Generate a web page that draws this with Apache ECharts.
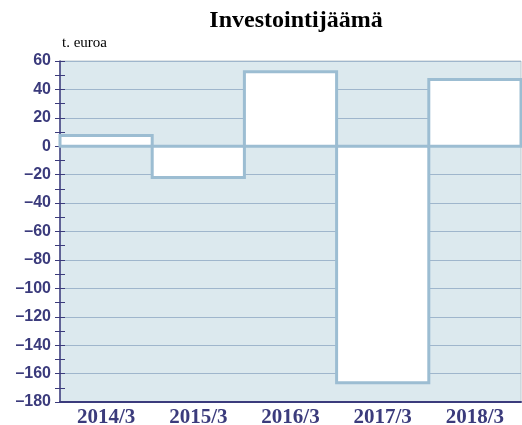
<!DOCTYPE html>
<html>
<head>
<meta charset="utf-8">
<script src="https://cdn.jsdelivr.net/npm/echarts@6/dist/echarts.min.js"></script>
<style>
  html, body { margin: 0; padding: 0; background: #ffffff; }
  #chart { width: 522px; height: 425px; }
</style>
</head>
<body>
<div id="chart"></div>
<script>
const categories = ['2014/3', '2015/3', '2016/3', '2017/3', '2018/3']
const values = [7.5, -22, 52.5, -166.5, 47]

const navy = '#3b3b7c'
const dash = v => String(v).replace('-', '\u2013')

const chart = echarts.init(document.getElementById('chart'))

// bars drawn as outlined rects so neighbours share edges like the original
const renderBar = (params, api) => {
  const i = api.value(0)
  const v = api.value(1)
  const base = api.coord([i, 0])
  const top = api.coord([i, v])
  const w = api.size([1, 0])[0]
  return {
    type: 'rect',
    shape: {
      x: base[0] - w / 2,
      y: Math.min(base[1], top[1]),
      width: w,
      height: Math.abs(top[1] - base[1])
    },
    style: { fill: '#ffffff', stroke: '#9cbdd2', lineWidth: 3 }
  }
}

const option = {
  animation: false,
  title: {
    text: 'Investointijäämä',
    left: 291,
    top: 4,
    textAlign: 'center',
    textStyle: {
      fontFamily: 'Liberation Serif, serif',
      fontSize: 24,
      fontWeight: 'bold',
      color: '#000'
    }
  },
  graphic: [{
    type: 'text',
    left: 62,
    top: 36,
    style: {
      text: 't. euroa',
      font: '15px "Liberation Serif", serif',
      fill: '#000'
    }
  }],
  grid: {
    left: 60,
    right: 1,
    top: 61,
    bottom: 23,
    outerBoundsMode: 'none',
    show: true,
    backgroundColor: '#dce9ee',
    borderColor: '#bcc8cf',
    borderWidth: 1
  },
  xAxis: {
    type: 'category',
    data: categories,
    axisLine: { onZero: false, lineStyle: { color: navy, width: 2 } },
    axisTick: { alignWithLabel: true, inside: true, length: 7, lineStyle: { color: navy } },
    axisLabel: {
      margin: 5,
      color: navy,
      fontFamily: 'Liberation Serif, serif',
      fontWeight: 'bold',
      fontSize: 21
    }
  },
  yAxis: [{
    // shifted 5px right so its 10px ticks cross the axis line
    type: 'value',
    offset: -5,
    min: -180,
    max: 60,
    interval: 20,
    axisLine: { show: false },
    axisTick: { show: true, length: 10, lineStyle: { color: navy } },
    minorTick: { show: true, splitNumber: 2, length: 10, lineStyle: { color: navy } },
    splitLine: { lineStyle: { color: '#9fb6cc', width: 1 } },
    axisLabel: {
      margin: 14,
      color: navy,
      fontFamily: 'Liberation Sans, Arial, sans-serif',
      fontWeight: 'bold',
      fontSize: 16,
      formatter: dash
    }
  }, {
    // the axis line itself
    type: 'value',
    position: 'left',
    min: -180,
    max: 60,
    interval: 20,
    axisLine: { show: true, lineStyle: { color: navy, width: 1.5 } },
    axisTick: { show: false },
    splitLine: { show: false },
    axisLabel: { show: false }
  }],
  series: [{
    type: 'custom',
    renderItem: renderBar,
    data: values.map((v, i) => [i, v]),
    z: 3
  }]
}

chart.setOption(option)
</script>
</body>
</html>
